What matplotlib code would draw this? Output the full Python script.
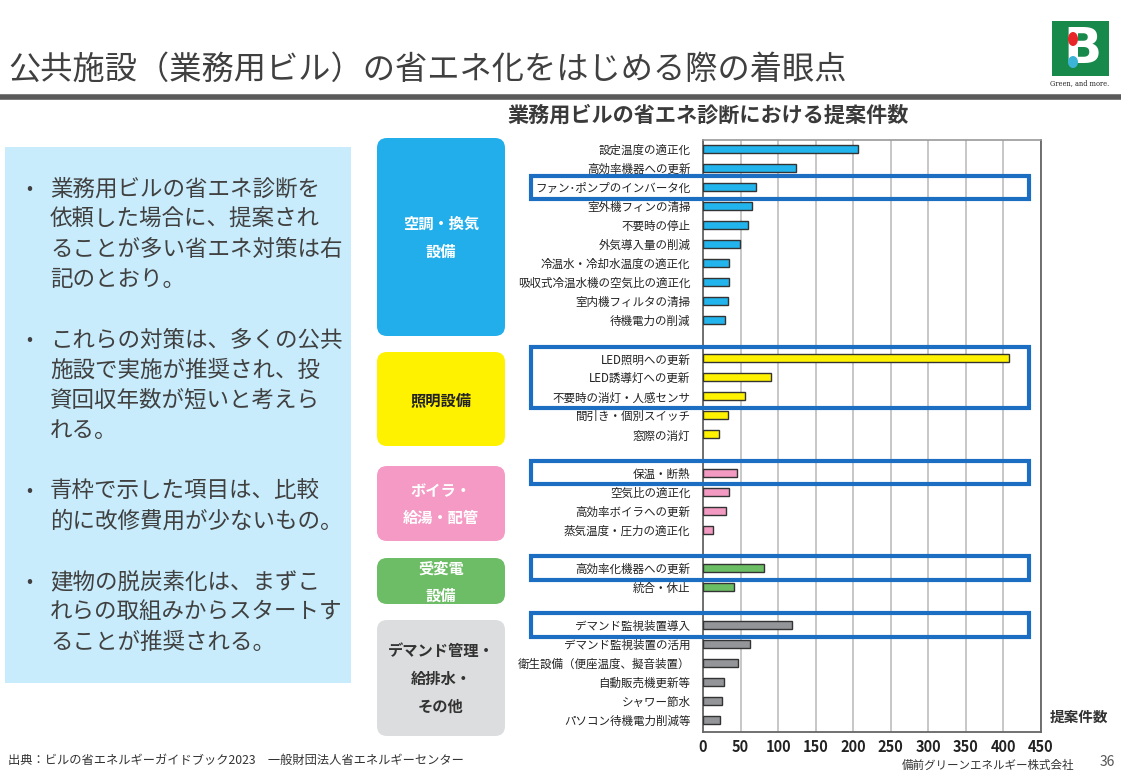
import matplotlib
matplotlib.use("Agg")
import matplotlib.pyplot as plt
from matplotlib.patches import FancyBboxPatch, Rectangle, Ellipse
from matplotlib.transforms import blended_transform_factory

plt.rcParams['font.family'] = ['Noto Sans CJK JP', 'DejaVu Sans']

# ---------------- data ----------------
ac_labels = ["設定温度の適正化", "高効率機器への更新", "ファン･ポンプのインバータ化", "室外機フィンの清掃",
             "不要時の停止", "外気導入量の削減", "冷温水・冷却水温度の適正化",
             "吸収式冷温水機の空気比の適正化", "室内機フィルタの清掃", "待機電力の削減"]
ac_values = [207, 124, 71, 65, 60, 49, 34, 34, 33, 29]

light_labels = ["LED照明への更新", "LED誘導灯への更新", "不要時の消灯・人感センサ",
                "間引き・個別スイッチ", "窓際の消灯"]
light_values = [407, 91, 56, 33, 21]

boiler_labels = ["保温・断熱", "空気比の適正化", "高効率ボイラへの更新", "蒸気温度・圧力の適正化"]
boiler_values = [45, 34, 31, 13]

power_labels = ["高効率化機器への更新", "統合・休止"]
power_values = [81, 41]

other_labels = ["デマンド監視装置導入", "デマンド監視装置の活用", "衛生設備（便座温度、擬音装置）",
                "自動販売機更新等", "シャワー節水", "パソコン待機電力削減等"]
other_values = [118, 62, 46, 28, 25, 23]

group_names = ["空調・換気\n設備", "照明設備", "ボイラ・\n給湯・配管", "受変電\n設備", "デマンド管理・\n給排水・\nその他"]
x_ticks = [0, 50, 100, 150, 200, 250, 300, 350, 400, 450]

# highlighted (blue frame) ranges: (first label, last label)
highlights = [("ファン･ポンプのインバータ化", "ファン･ポンプのインバータ化"),
              ("LED照明への更新", "不要時の消灯・人感センサ"),
              ("保温・断熱", "保温・断熱"),
              ("高効率化機器への更新", "高効率化機器への更新"),
              ("デマンド監視装置導入", "デマンド監視装置導入")]

bullets = [
    ["業務用ビルの省エネ診断を", "依頼した場合に、提案され", "ることが多い省エネ対策は右", "記のとおり。"],
    ["これらの対策は、多くの公共", "施設で実施が推奨され、投", "資回収年数が短いと考えら", "れる。"],
    ["青枠で示した項目は、比較", "的に改修費用が少ないもの。"],
    ["建物の脱炭素化は、まずこ", "れらの取組みからスタートす", "ることが推奨される。"],
]

# ---------------- styles ----------------
bar_colors = ["#22B4EC", "#FFF200", "#F39AC2", "#6CBE64", "#949598"]
box_colors = ["#22AEEA", "#FFF200", "#F49AC4", "#6DBC66", "#DCDDDE"]
box_text_colors = ["white", "#222222", "white", "white", "#333333"]
box_y = [(138, 336), (352, 446), (466, 541), (558, 604), (620, 736)]

W, H = 1121, 777
fig = plt.figure(figsize=(W / 100, H / 100), dpi=100)

# overlay axes in pixel coordinates
ov = fig.add_axes([0, 0, 1, 1], zorder=0)
ov.set_xlim(0, W)
ov.set_ylim(H, 0)
ov.axis('off')

# main chart axes
ax = fig.add_axes([703 / W, 1 - 732 / H, (1041 - 703) / W, (732 - 140) / H], zorder=2)

groups = [(ac_labels, ac_values), (light_labels, light_values), (boiler_labels, boiler_values),
          (power_labels, power_values), (other_labels, other_values)]
pos = 0
all_pos, all_labels = [], []
label_pos = {}
for gi, (labs, vals) in enumerate(groups):
    ys = list(range(pos, pos + len(labs)))
    ax.barh(ys, vals, height=0.42, color=bar_colors[gi], edgecolor="#333333", linewidth=1.0, zorder=3)
    for y, l in zip(ys, labs):
        label_pos[l] = y
    all_pos += ys
    all_labels += labs
    pos += len(labs) + 1

ax.set_ylim(pos - 1 - 0.37, -0.47)
ax.set_xlim(0, 450)
ax.set_xticks(x_ticks)
ax.set_xticklabels([str(t) for t in x_ticks], fontsize=10.5, fontweight='bold', color="#222222")
ax.set_yticks(all_pos)
ax.set_yticklabels(all_labels, fontsize=8.3, color="#222222")
ax.tick_params(axis='both', length=0)
ax.tick_params(axis='y', pad=9)
ax.tick_params(axis='x', pad=5)
ax.grid(axis='x', color="#BEBEBE", linewidth=1.2, zorder=0)
ax.set_axisbelow(True)
for s in ['left', 'bottom', 'right']:
    ax.spines[s].set_color("#666666")
    ax.spines[s].set_linewidth(1.3)
ax.spines['top'].set_color("#999999")
ax.spines['top'].set_linewidth(1.2)

# blue highlight frames
btr = blended_transform_factory(ov.transData, ax.transData)
for a, b in highlights:
    y0 = label_pos[a] - 0.6
    y1 = label_pos[b] + 0.62
    ax.add_patch(Rectangle((531, y0), 1029 - 531, y1 - y0, transform=btr, fill=False,
                           edgecolor="#1B6EC2", linewidth=3.0, clip_on=False, zorder=5))

# chart title & axis title
ov.text(708, 115, "業務用ビルの省エネ診断における提案件数", ha='center', va='center',
        fontsize=15.2, fontweight='bold', color="#3A3A3A")
fig.text(1079 / W, 1 - 717 / H, "提案件数", ha='center', va='center', fontsize=10.5,
         fontweight='bold', color="#333333")

# category boxes
for name, col, tcol, (y0, y1) in zip(group_names, box_colors, box_text_colors, box_y):
    ov.add_patch(FancyBboxPatch((377, y0), 128, y1 - y0, boxstyle="round,pad=0,rounding_size=10",
                                facecolor=col, edgecolor='none'))
    ov.text(441, (y0 + y1) / 2 + 1, name, ha='center', va='center', fontsize=11,
            fontweight='bold', color=tcol, linespacing=1.9)

# main title + rule
ov.text(8, 70, "公共施設（業務用ビル）の省エネ化をはじめる際の着眼点", ha='left', va='center',
        fontsize=23.2, color="#404040")
ov.plot([0, W], [97, 97], color="#5A5A5A", linewidth=4, solid_capstyle='butt')

# left text panel
ov.add_patch(Rectangle((5, 147), 346, 536, facecolor="#C8ECFC", edgecolor='none'))
line_h = 30.2
y = 189
for para in bullets:
    ov.text(29, y, "•", ha='center', va='center', fontsize=13, color="#404040")
    for line in para:
        ov.text(50, y, line, ha='left', va='center', fontsize=16.2, color="#404040")
        y += line_h
    y += line_h

# footer
ov.text(8, 760, "出典：ビルの省エネルギーガイドブック2023　一般財団法人省エネルギーセンター",
        ha='left', va='center', fontsize=8.8, color="#333333")
ov.text(1074, 765, "備前グリーンエネルギー株式会社", ha='right', va='center', fontsize=8.3, color="#333333")
ov.text(1107, 762, "36", ha='center', va='center', fontsize=10, color="#555555")

# logo
ov.add_patch(Rectangle((1052, 21), 57, 55, facecolor="#17894B", edgecolor='none', zorder=1))
ov.text(1082, 49, "B", ha='center', va='center', fontsize=36, fontweight='bold', color='white',
        family='DejaVu Sans', zorder=2)
ov.add_patch(Ellipse((1073, 39), 10, 14, facecolor="#E8262A", edgecolor='none', zorder=4))
ov.add_patch(Ellipse((1073, 62), 10, 12, facecolor="#3CB4D8", edgecolor='none', zorder=4))
ov.text(1080, 83, "Green, and more.", ha='center', va='center', fontsize=4.8, color="#222222",
        family='DejaVu Serif')

fig.savefig("out.png", dpi=100)
